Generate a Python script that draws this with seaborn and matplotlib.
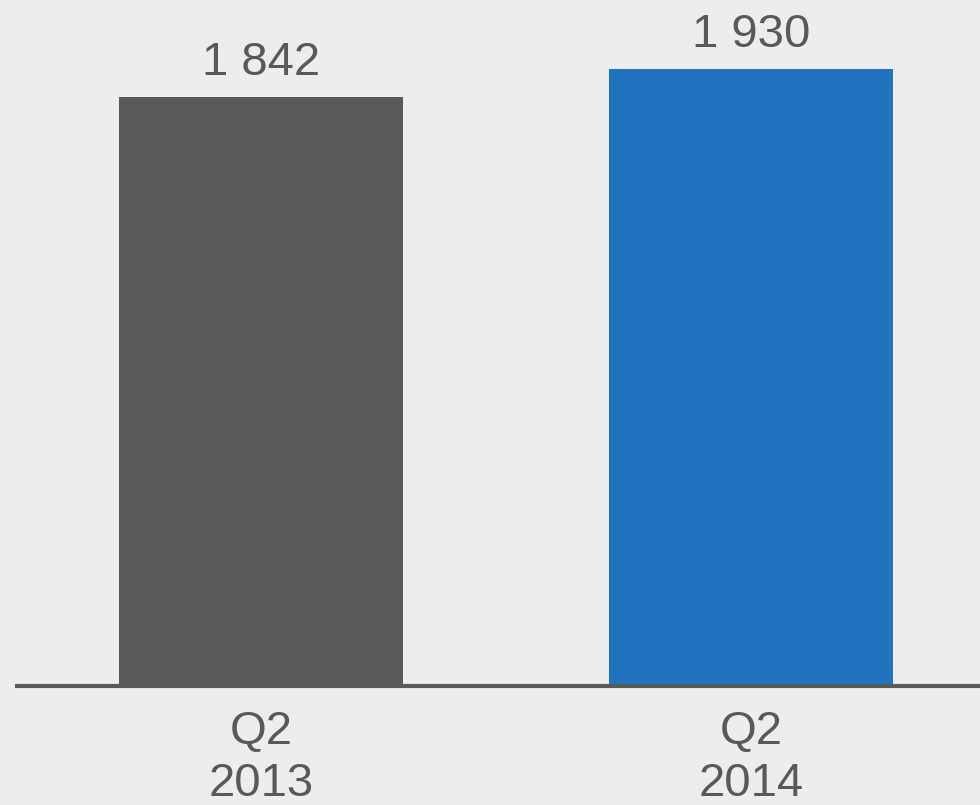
import matplotlib
matplotlib.use("Agg")
import matplotlib.pyplot as plt
import seaborn as sns
import pandas as pd

categories = ["Q2\n2013", "Q2\n2014"]
values = [1842, 1930]
colors = ["#595959", "#2273BD"]

df = pd.DataFrame({"period": categories, "value": values})

sns.set_theme(style="white")
plt.rcParams["font.family"] = ["Liberation Sans", "DejaVu Sans"]

bg = "#EDEDED"
txt = "#595959"
fig = plt.figure(figsize=(9.8, 8.05), dpi=100, facecolor=bg)
ax = fig.add_axes([15 / 980, (805 - 686) / 805, 1 - 15 / 980, 686 / 805])
ax.set_facecolor(bg)

sns.barplot(data=df, x="period", y="value", hue="period", palette=colors,
            width=0.58, legend=False, ax=ax, saturation=1, linewidth=0)

ax.set_xlim((15 - 261) / 490, (980 - 261) / 490)
ax.set_ylim(0, 2145)

for i, v in enumerate(values):
    ax.annotate(f"{v:,}".replace(",", " "), xy=(i, v), xytext=(0, 22),
                textcoords="offset pixels", ha="center", va="baseline",
                fontsize=34, color=txt)

for s in ["top", "right", "left"]:
    ax.spines[s].set_visible(False)
ax.spines["bottom"].set_color(txt)
ax.spines["bottom"].set_linewidth(3)
ax.spines["bottom"].set_capstyle("butt")
ax.set_yticks([])
ax.set_xlabel("")
ax.set_ylabel("")
ax.tick_params(axis="x", length=0, pad=17, labelsize=34, labelcolor=txt)
for lab in ax.get_xticklabels():
    lab.set_linespacing(1.26)

fig.savefig("out.png", dpi=100, facecolor=bg)
